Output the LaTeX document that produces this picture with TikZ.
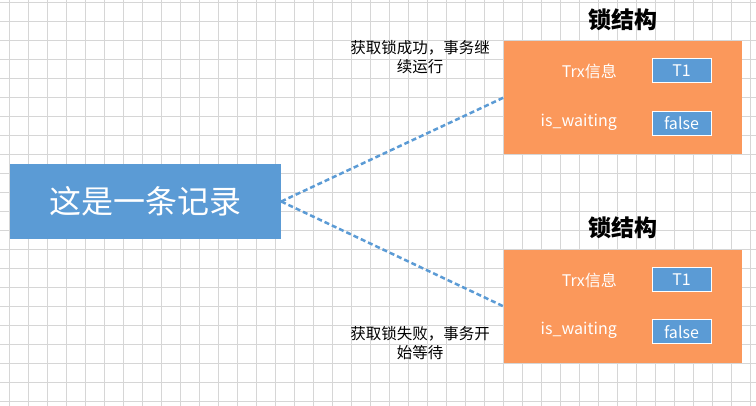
\documentclass[tikz,border=0pt]{standalone}
\usepackage{fontspec}
\setmainfont{Noto Sans CJK SC}
\definecolor{recblue}{RGB}{91,155,213}
\definecolor{lockorange}{RGB}{251,152,91}
\definecolor{gridgray}{RGB}{214,214,214}
\begin{document}
\begin{tikzpicture}[x=1pt,y=-1pt,
  gridline/.style={draw=gridgray,line width=0.9pt},
  recbox/.style={fill=recblue,text=white,minimum width=271pt,minimum height=75pt,inner sep=0pt,font=\fontsize{32}{38}\selectfont},
  lockbox/.style={fill=lockorange,minimum width=238pt,minimum height=113pt,inner sep=0pt},
  locktitle/.style={font=\fontsize{23}{27}\selectfont\bfseries,text=black},
  fieldlabel/.style={anchor=east,text=white,inner sep=0pt,font=\fontsize{16}{19}\selectfont},
  valbox/.style={fill=recblue,draw=white,line width=1pt,text=white,minimum width=59pt,minimum height=24pt,inner sep=0pt,font=\fontsize{16}{19}\selectfont},
  note/.style={align=center,inner sep=0pt,font=\fontsize{15.5}{19}\selectfont},
  link/.style={draw=recblue,line width=2.5pt,dash pattern=on 5pt off 3pt}]
\useasboundingbox (0,0) rectangle (756,406);
\fill[white] (0,0) rectangle (756,406);
\foreach \k in {0,...,39} {
  \draw[gridline] ({9.3+19*\k},0) -- ({9.3+19*\k},406);
}
\foreach \k in {0,...,21} {
  \draw[gridline] (0,{2.3+19*\k}) -- (756,{2.3+19*\k});
}
% record
\node[recbox] (rec) at (145.5,201.5) {这是一条记录};
% top lock structure
\node[locktitle] (t1title) at (623,20) {锁结构};
\node[lockbox] (lock1) at (623,97.5) {};
\node[fieldlabel] (trx1) at (617,71) {Trx信息};
\node[valbox] (v11) at (681.5,71) {T1};
\node[fieldlabel] (wait1) at (617,122) {is\_waiting};
\node[valbox] (v12) at (681.5,123.5) {false};
% bottom lock structure
\node[locktitle] (t2title) at (623,228) {锁结构};
\node[lockbox] (lock2) at (623,306.5) {};
\node[fieldlabel] (trx2) at (617,280) {Trx信息};
\node[valbox] (v21) at (681.5,280) {T1};
\node[fieldlabel] (wait2) at (617,330) {is\_waiting};
\node[valbox] (v22) at (681.5,332) {false};
% notes
\node[note] (n1) at (420,57.5) {获取锁成功，事务继\\续运行};
\node[note] (n2) at (420,343) {获取锁失败，事务开\\始等待};
% connectors
\draw[link] (rec.east) -- (lock1.west);
\draw[link] (rec.east) -- (lock2.west);
\end{tikzpicture}
\end{document}
